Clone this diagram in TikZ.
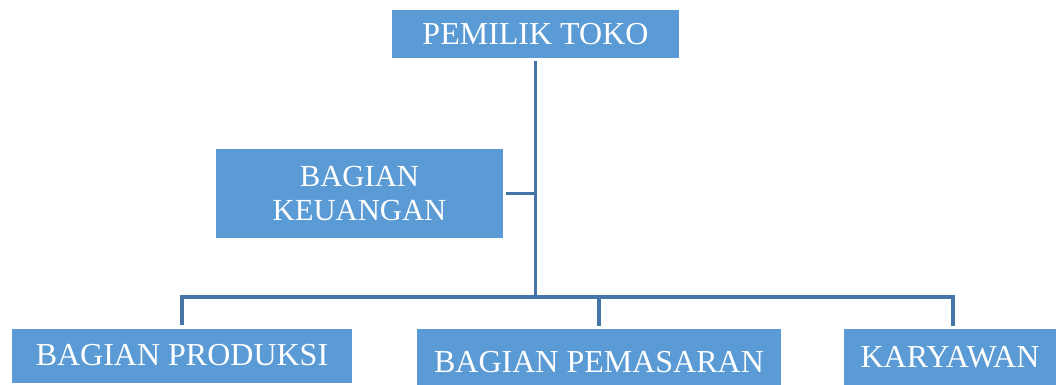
\documentclass[tikz,border=0pt]{standalone}
\usepackage{fontspec}
\setmainfont{Liberation Serif}
\usetikzlibrary{positioning}

\definecolor{boxblue}{HTML}{5B9BD5}
\definecolor{lineblue}{HTML}{4676A8}

\begin{document}
\begin{tikzpicture}[x=0.75pt, y=-0.75pt,
  unit/.style={rectangle, fill=boxblue, text=white, inner sep=0pt, outer sep=2.5pt,
    font=\fontsize{24}{26}\selectfont, align=center},
  link/.style={draw=lineblue, line width=2.4pt}]
\useasboundingbox (0,0) rectangle (1056,385);

\node[unit, minimum width=287*0.75pt, minimum height=48*0.75pt] (owner) at (535.5, 34) {PEMILIK TOKO};
\node[unit, font=\fontsize{23}{25}\selectfont, minimum width=287*0.75pt, minimum height=89*0.75pt] (finance) at (359.5, 193.5) {BAGIAN\\KEUANGAN};
\node[unit, minimum width=340*0.75pt, minimum height=54*0.75pt] (production) at (182, 355.5) {BAGIAN PRODUKSI};
\node[unit, minimum width=364*0.75pt, minimum height=56*0.75pt, text height=23.5pt, text depth=0pt] (marketing) at (599, 357) {BAGIAN PEMASARAN};
\node[unit, minimum width=212*0.75pt, minimum height=56*0.75pt] (staff) at (950, 357) {KARYAWAN};

\coordinate (hub) at (535.5, 297);

\draw[link] (owner.south) -- (hub);
\draw[link] (finance.east) -- (finance.east -| hub);
\draw[link] (production.north) |- (hub);
\draw[link] (hub) -| (marketing.north);
\draw[link] (hub) -| ([xshift=3*0.75pt]staff.north);
\end{tikzpicture}
\end{document}
